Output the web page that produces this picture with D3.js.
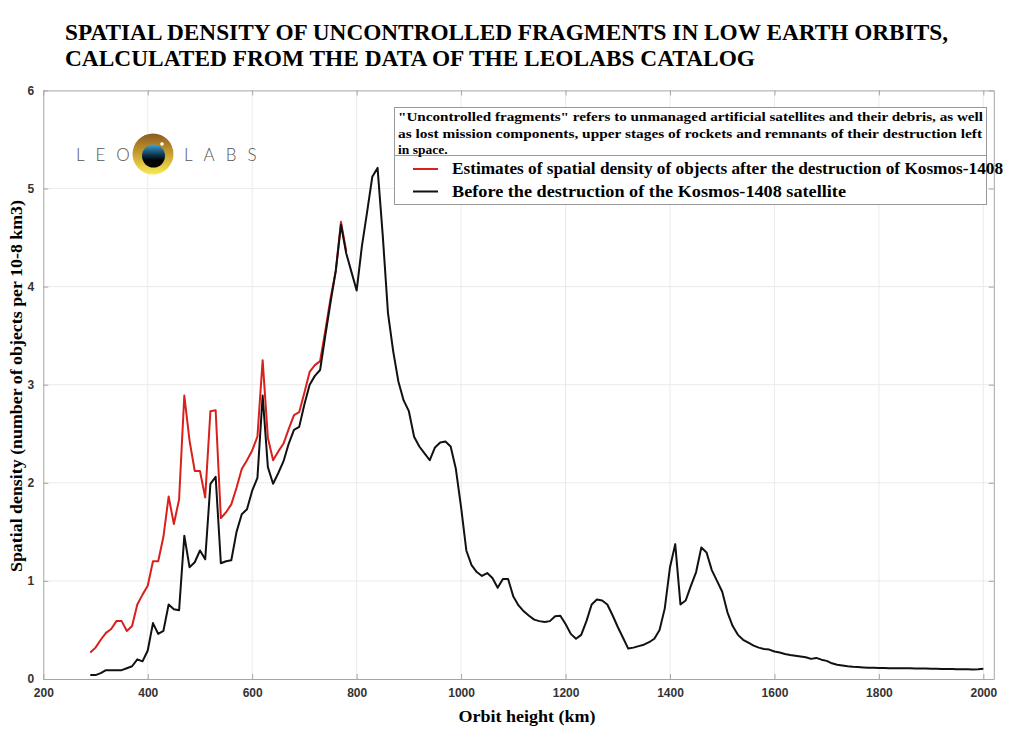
<!DOCTYPE html>
<html>
<head>
<meta charset="utf-8">
<script src="https://cdn.jsdelivr.net/npm/d3@7"></script>
<style>
	body { margin: 0; background: #fff; }
	svg { display: block; }
</style>
</head>
<body>
<svg id="chart"></svg>
<script>
// orbit heights are sampled every 10 km
var heightsAfter = d3.range(290, 781, 10)
var heightsBefore = d3.range(290, 2001, 10)

// after the Kosmos-1408 destruction (red)
var densityAfter = [
	0.27, 0.32, 0.40, 0.47, 0.51, 0.59, 0.59, 0.49, 0.54, 0.76,
	0.86, 0.95, 1.20, 1.20, 1.45, 1.86, 1.58, 1.83, 2.89, 2.43,
	2.12, 2.12, 1.85, 2.73, 2.74, 1.64, 1.70, 1.78, 1.95, 2.14,
	2.23, 2.33, 2.47, 3.25, 2.46, 2.23, 2.32, 2.40, 2.55, 2.69,
	2.72, 2.92, 3.13, 3.20, 3.24, 3.55, 3.88, 4.16, 4.66, 4.36
]

// before the destruction (black)
var densityBefore = [
	0.04, 0.04, 0.06, 0.09, 0.09, 0.09, 0.09, 0.11, 0.13, 0.20,
	0.18, 0.29, 0.57, 0.46, 0.49, 0.76, 0.71, 0.70, 1.46, 1.14,
	1.19, 1.31, 1.22, 1.99, 2.06, 1.18, 1.20, 1.21, 1.50, 1.68,
	1.73, 1.92, 2.05, 2.89, 2.16, 1.99, 2.10, 2.22, 2.40, 2.54,
	2.57, 2.80, 3.00, 3.09, 3.15, 3.50, 3.84, 4.16, 4.63, 4.34,
	4.15, 3.96, 4.41, 4.76, 5.12, 5.21, 4.52, 3.73, 3.34, 3.03,
	2.84, 2.73, 2.47, 2.37, 2.30, 2.23, 2.36, 2.41, 2.42, 2.37,
	2.14, 1.75, 1.31, 1.16, 1.09, 1.05, 1.08, 1.03, 0.93, 1.02,
	1.02, 0.84, 0.75, 0.69, 0.645, 0.605, 0.59, 0.58, 0.59, 0.64,
	0.645, 0.56, 0.46, 0.41, 0.45, 0.59, 0.76, 0.81, 0.80, 0.76,
	0.65, 0.53, 0.42, 0.31, 0.32, 0.335, 0.35, 0.375, 0.41, 0.50,
	0.72, 1.14, 1.375, 0.76, 0.80, 0.95, 1.09, 1.34, 1.29, 1.11,
	1.00, 0.89, 0.68, 0.54, 0.45, 0.40, 0.37, 0.34, 0.32, 0.305,
	0.30, 0.28, 0.27, 0.255, 0.245, 0.237, 0.23, 0.222, 0.205, 0.215,
	0.197, 0.185, 0.16, 0.145, 0.137, 0.13, 0.125, 0.122, 0.118, 0.115,
	0.114, 0.113, 0.112, 0.11, 0.11, 0.11, 0.11, 0.109, 0.108, 0.107,
	0.106, 0.105, 0.104, 0.103, 0.102, 0.101, 0.10, 0.10, 0.099, 0.098,
	0.10, 0.104
]

var xTicks = [200, 400, 600, 800, 1000, 1200, 1400, 1600, 1800, 2000]
var yTicks = [0, 1, 2, 3, 4, 5, 6]

var titleLines = [
	"SPATIAL DENSITY OF UNCONTROLLED FRAGMENTS IN LOW EARTH ORBITS,",
	"CALCULATED FROM THE DATA OF THE LEOLABS CATALOG"
]
var noteLines = [
	"\"Uncontrolled fragments\" refers to unmanaged artificial satellites and their debris, as well",
	"as lost mission components, upper stages of rockets and remnants of their destruction left",
	"in space."
]
var legendLabels = [
	"Estimates of spatial density of objects after the destruction of Kosmos-1408",
	"Before the destruction of the Kosmos-1408 satellite"
]

buildChart()

function buildChart() {
	var dim = { width: 1024, height: 735, left: 43.3, right: 993.8, top: 90.4, bottom: 679 }
	var serif = "'Liberation Serif', 'Times New Roman', serif"
	var sans = "'Liberation Sans', Arial, sans-serif"

	var svg = d3.select('#chart')
		.attr('width', dim.width)
		.attr('height', dim.height)

	svg.append('rect')
		.attr('width', dim.width).attr('height', dim.height)
		.attr('fill', '#fff')

	var x = d3.scaleLinear().domain([200, 2020]).range([dim.left, dim.right])
	var y = d3.scaleLinear().domain([0, 6]).range([dim.bottom, dim.top])

	// grid
	svg.append('g').selectAll('line.gx')
		.data(xTicks.slice(1))
		.enter().append('line')
			.attr('x1', d => x(d)).attr('x2', d => x(d))
			.attr('y1', dim.top).attr('y2', dim.bottom)
			.attr('stroke', '#ebebeb').attr('stroke-width', 1)
	svg.append('g').selectAll('line.gy')
		.data(yTicks.slice(1, -1))
		.enter().append('line')
			.attr('x1', dim.left).attr('x2', dim.right)
			.attr('y1', d => y(d)).attr('y2', d => y(d))
			.attr('stroke', '#ebebeb').attr('stroke-width', 1)

	// axes
	var fmt = d3.format('d')
	svg.append('g')
		.attr('transform', 'translate(0,' + dim.bottom + ')')
		.call(d3.axisBottom(x).tickValues(xTicks).tickFormat(fmt).tickSizeInner(-5).tickSizeOuter(0).tickPadding(9))
	svg.append('g')
		.attr('transform', 'translate(' + dim.left + ',0)')
		.call(d3.axisLeft(y).tickValues(yTicks).tickFormat(fmt).tickSizeInner(-5).tickSizeOuter(0).tickPadding(9))
	svg.append('g')
		.attr('transform', 'translate(0,' + dim.top + ')')
		.call(d3.axisTop(x).tickValues(xTicks).tickSizeInner(-5).tickSizeOuter(0).tickFormat(''))
	svg.append('g')
		.attr('transform', 'translate(' + dim.right + ',0)')
		.call(d3.axisRight(y).tickValues(yTicks).tickSizeInner(-5).tickSizeOuter(0).tickFormat(''))

	svg.selectAll('.domain').attr('stroke', '#a6a6a6')
	svg.selectAll('.tick line').attr('stroke', '#a6a6a6')
	svg.selectAll('.tick text')
		.attr('font-family', sans)
		.attr('font-weight', 'bold')
		.attr('font-size', 12)
		.attr('fill', '#333')

	// series
	var line = d3.line()
		.x(d => x(d[0]))
		.y(d => y(d[1]))

	svg.append('path')
		.datum(d3.zip(heightsAfter, densityAfter))
		.attr('d', line)
		.attr('fill', 'none')
		.attr('stroke', '#d8201c')
		.attr('stroke-width', 2)
		.attr('stroke-linejoin', 'round')

	svg.append('path')
		.datum(d3.zip(heightsBefore, densityBefore))
		.attr('d', line)
		.attr('fill', 'none')
		.attr('stroke', '#111')
		.attr('stroke-width', 2)
		.attr('stroke-linejoin', 'round')

	// title
	svg.append('g').selectAll('text')
		.data(titleLines)
		.enter().append('text')
			.attr('x', 65)
			.attr('y', (d, i) => 40 + i * 26)
			.attr('font-family', serif)
			.attr('font-weight', 'bold')
			.attr('font-size', 23.5)
			.attr('textLength', (d, i) => i == 0 ? 883 : 690)
			.attr('lengthAdjust', 'spacingAndGlyphs')
			.attr('fill', '#000')
			.text(d => d)

	// axis labels
	svg.append('text')
		.attr('x', 527).attr('y', 722)
		.attr('text-anchor', 'middle')
		.attr('font-family', serif).attr('font-weight', 'bold').attr('font-size', 16)
		.attr('textLength', 137).attr('lengthAdjust', 'spacingAndGlyphs')
		.text('Orbit height (km)')

	svg.append('text')
		.attr('transform', 'translate(22,386) rotate(-90)')
		.attr('text-anchor', 'middle')
		.attr('font-family', serif).attr('font-weight', 'bold').attr('font-size', 16)
		.attr('textLength', 372).attr('lengthAdjust', 'spacingAndGlyphs')
		.text('Spatial density (number of objects per 10-8 km3)')

	// note + legend box
	var box = svg.append('g')
	box.append('rect')
		.attr('x', 394.5).attr('y', 107.5).attr('width', 592).attr('height', 48)
		.attr('fill', '#fff').attr('stroke', '#999')
	box.append('rect')
		.attr('x', 394.5).attr('y', 155.5).attr('width', 592).attr('height', 49)
		.attr('fill', '#fff').attr('stroke', '#999')
	box.selectAll('text.note')
		.data(noteLines)
		.enter().append('text')
			.attr('x', 398)
			.attr('y', (d, i) => 121 + i * 16.5)
			.attr('font-family', serif).attr('font-weight', 'bold').attr('font-size', 13.5)
			.attr('textLength', (d, i) => i == 0 ? 585 : (i == 1 ? 584 : null))
			.attr('lengthAdjust', 'spacingAndGlyphs')
			.text(d => d)

	var legendColors = ['#d8201c', '#111']
	var entry = box.selectAll('g.entry')
		.data(legendLabels)
		.enter().append('g')
			.attr('transform', (d, i) => 'translate(0,' + (169 + i * 22.5) + ')')
	entry.append('line')
		.attr('x1', 413).attr('x2', 438)
		.attr('stroke', (d, i) => legendColors[i])
		.attr('stroke-width', 2)
	entry.append('text')
		.attr('x', 452).attr('y', 5)
		.attr('font-family', serif).attr('font-weight', 'bold').attr('font-size', 16)
		.attr('textLength', (d, i) => i == 0 ? 551 : 394)
		.attr('lengthAdjust', 'spacingAndGlyphs')
		.text(d => d)

	// LeoLabs logo
	var logo = svg.append('g')
	var defs = svg.append('defs')
	var gold = defs.append('linearGradient').attr('id', 'gold')
		.attr('x1', 0).attr('y1', 0).attr('x2', 0).attr('y2', 1)
	gold.append('stop').attr('offset', '0%').attr('stop-color', '#8a5a22')
	gold.append('stop').attr('offset', '50%').attr('stop-color', '#c9a030')
	gold.append('stop').attr('offset', '100%').attr('stop-color', '#f8ea55')
	var eye = defs.append('linearGradient').attr('id', 'eye')
		.attr('x1', 0).attr('y1', 0).attr('x2', 0).attr('y2', 1)
	eye.append('stop').attr('offset', '0%').attr('stop-color', '#3aa6d8')
	eye.append('stop').attr('offset', '45%').attr('stop-color', '#0d3550')
	eye.append('stop').attr('offset', '70%').attr('stop-color', '#000')

	logo.append('text')
		.attr('x', 76).attr('y', 161)
		.attr('font-family', "Lato, 'Open Sans', sans-serif").attr('font-weight', 300)
		.attr('font-size', 17).attr('letter-spacing', 11).attr('fill', '#555')
		.text('LEO')
	logo.append('circle')
		.attr('cx', 153).attr('cy', 154).attr('r', 20.5)
		.attr('fill', 'url(#gold)')
	logo.append('circle')
		.attr('cx', 153.5).attr('cy', 156).attr('r', 11.5)
		.attr('fill', 'url(#eye)')
	logo.append('circle')
		.attr('cx', 162).attr('cy', 144).attr('r', 1.8)
		.attr('fill', '#fff')
	logo.append('text')
		.attr('x', 184).attr('y', 161)
		.attr('font-family', "Lato, 'Open Sans', sans-serif").attr('font-weight', 300)
		.attr('font-size', 17).attr('letter-spacing', 11).attr('fill', '#555')
		.text('LABS')
}
</script>
</body>
</html>
